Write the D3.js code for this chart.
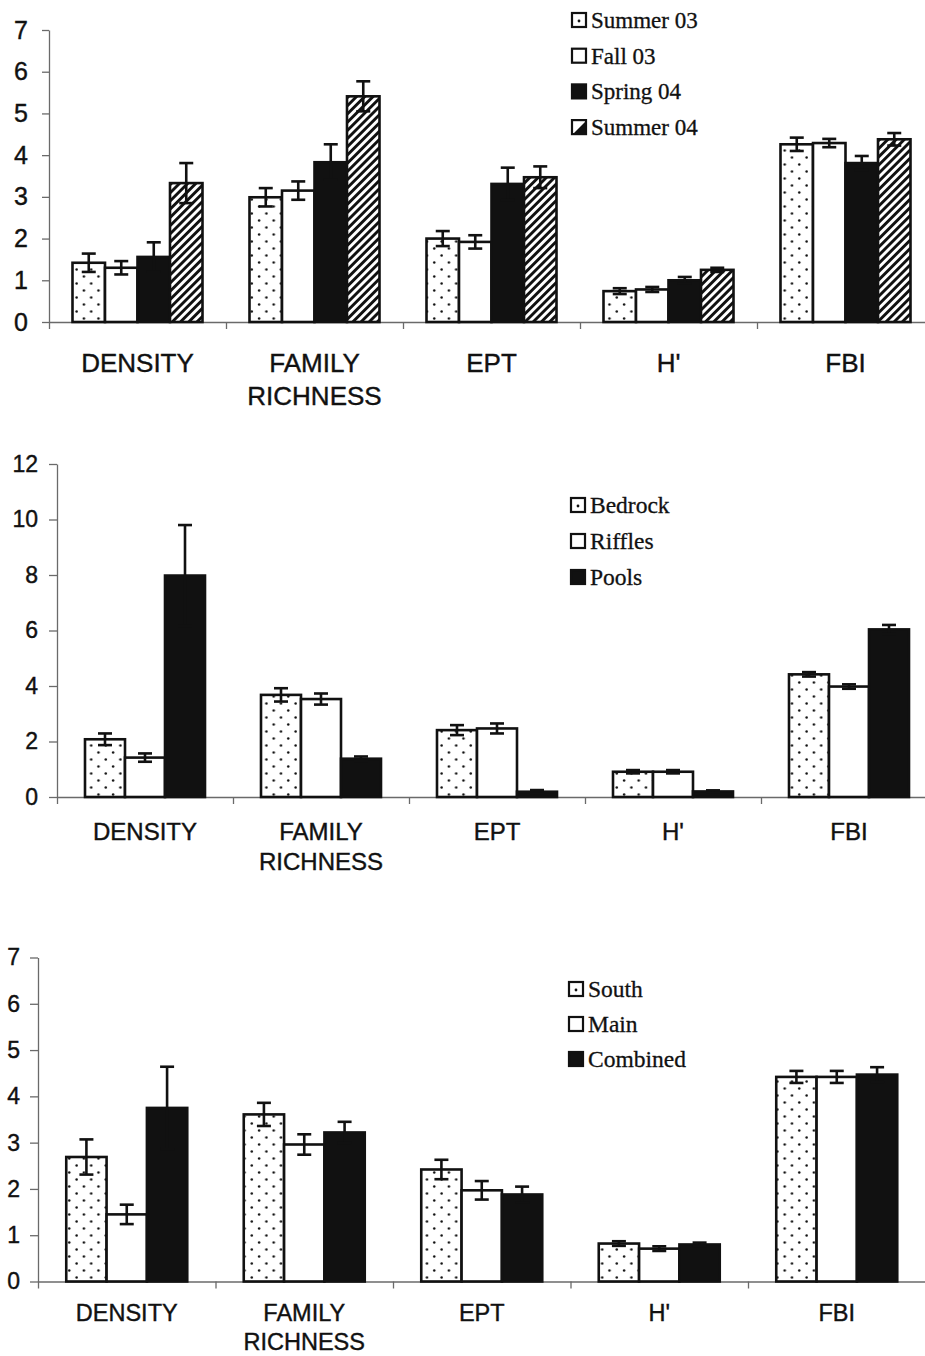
<!DOCTYPE html>
<html>
<head>
<meta charset="utf-8">
<script src="https://cdn.jsdelivr.net/npm/d3@7"></script>
<style>
  html, body { margin: 0; padding: 0; background: #fff; }
  svg { display: block; }
</style>
</head>
<body>
<script>
// ---------------- DATA ----------------
const categories = ["DENSITY", "FAMILY RICHNESS", "EPT", "H'", "FBI"];

// Chart 1 : seasons
const seasonNames = ["Summer 03", "Fall 03", "Spring 04", "Summer 04"];
const summer03Mean = [1.42, 2.99, 2.00, 0.74, 4.26];
const summer03Err  = [0.22, 0.22, 0.18, 0.07, 0.16];
const fall03Mean   = [1.30, 3.15, 1.92, 0.78, 4.29];
const fall03Err    = [0.16, 0.22, 0.16, 0.06, 0.10];
const spring04Mean = [1.56, 3.83, 3.31, 1.00, 3.81];
const spring04Err  = [0.35, 0.43, 0.39, 0.08, 0.17];
const summer04Mean = [3.33, 5.41, 3.47, 1.25, 4.38];
const summer04Err  = [0.48, 0.36, 0.26, 0.05, 0.15];
const yTicks1 = [0, 1, 2, 3, 4, 5, 6, 7];

// Chart 2 : habitats
const habitatNames = ["Bedrock", "Riffles", "Pools"];
const bedrockMean = [2.08, 3.68, 2.41, 0.91, 4.42];
const bedrockErr  = [0.21, 0.24, 0.18, 0.06, 0.08];
const rifflesMean = [1.42, 3.53, 2.47, 0.91, 3.98];
const rifflesErr  = [0.15, 0.20, 0.18, 0.06, 0.08];
const poolsMean   = [7.98, 1.38, 0.19, 0.20, 6.04];
const poolsErr    = [1.82, 0.08, 0.06, 0.04, 0.16];
const yTicks2 = [0, 2, 4, 6, 8, 10, 12];

// Chart 3 : streams
const streamNames = ["South", "Main", "Combined"];
const southMean    = [2.69, 3.61, 2.42, 0.82, 4.42];
const southErr     = [0.38, 0.25, 0.21, 0.05, 0.13];
const mainMean     = [1.45, 2.96, 1.97, 0.71, 4.42];
const mainErr      = [0.21, 0.22, 0.20, 0.05, 0.13];
const combinedMean = [3.75, 3.22, 1.88, 0.80, 4.47];
const combinedErr  = [0.89, 0.23, 0.17, 0.04, 0.16];
const yTicks3 = [0, 1, 2, 3, 4, 5, 6, 7];

// ---------------- DRAWING ----------------
const W = 925, H = 1356;
const svg = d3.select("body").append("svg").attr("width", W).attr("height", H);
svg.append("rect").attr("width", W).attr("height", H).attr("fill", "#fff");

const defs = svg.append("defs");
const dots = defs.append("pattern").attr("id", "dots").attr("patternUnits", "userSpaceOnUse")
  .attr("width", 14.6).attr("height", 14);
dots.append("rect").attr("width", 14.6).attr("height", 14).attr("fill", "#fff");
dots.append("circle").attr("cx", 3.6).attr("cy", 3.5).attr("r", 1.25).attr("fill", "#111");
dots.append("circle").attr("cx", 10.9).attr("cy", 10.5).attr("r", 1.25).attr("fill", "#111");

const hatch = defs.append("pattern").attr("id", "hatch").attr("patternUnits", "userSpaceOnUse")
  .attr("width", 5.8).attr("height", 10).attr("patternTransform", "rotate(45)");
hatch.append("rect").attr("width", 5.8).attr("height", 10).attr("fill", "#fff");
hatch.append("rect").attr("x", 0).attr("width", 2.9).attr("height", 10).attr("fill", "#111");

const fillFor = { dots: "url(#dots)", white: "#fff", black: "#111", hatch: "url(#hatch)" };

function drawChart(cfg) {
  const g = svg.append("g");
  const n = categories.length;
  const x = d3.scaleBand().domain(categories).range([cfg.x0, cfg.x0 + cfg.catW * n]);
  const xs = d3.scaleBand().domain(cfg.names)
    .range([(cfg.catW - cfg.groupW) / 2, (cfg.catW + cfg.groupW) / 2]);
  const y = d3.scaleLinear().domain([0, cfg.yMax]).range([cfg.yBottom, cfg.yTop]);
  const xb = d3.scaleLinear().domain([0, n]).range(x.range());

  // x axis
  const xa = g.append("g").attr("transform", `translate(0,${cfg.yBottom})`)
    .call(d3.axisBottom(xb).tickValues(d3.range(n + 1)).tickFormat("").tickSizeInner(7).tickSizeOuter(0));
  // y axis
  const ya = g.append("g").attr("transform", `translate(${cfg.x0},0)`)
    .call(d3.axisLeft(y).tickValues(cfg.ticks).tickFormat(d3.format("d"))
      .tickSizeInner(cfg.yTick).tickSizeOuter(0).tickPadding(cfg.tickPad));
  [xa, ya].forEach(a => {
    a.select(".domain").attr("stroke", "#6a6a6a").attr("stroke-width", 1.3);
    a.selectAll(".tick line").attr("stroke", "#6a6a6a").attr("stroke-width", 1.3);
  });
  ya.selectAll(".tick text").attr("font-family", "'Liberation Sans', Arial, sans-serif")
    .attr("font-size", cfg.tickFont).attr("fill", "#111")
    .attr("stroke", "#111").attr("stroke-width", 0.4);

  // bars
  cfg.names.forEach((name, si) => {
    const means = cfg.means[si];
    g.append("g").selectAll("rect").data(categories).join("rect")
      .attr("x", c => x(c) + xs(name))
      .attr("y", (c, i) => y(means[i]))
      .attr("width", xs.bandwidth())
      .attr("height", (c, i) => y(0) - y(means[i]))
      .attr("fill", fillFor[cfg.styles[si]])
      .attr("stroke", "#111").attr("stroke-width", 2.6);
  });
  // error bars
  cfg.names.forEach((name, si) => {
    const means = cfg.means[si], errs = cfg.errs[si];
    const eg = g.append("g").attr("stroke", "#111").attr("stroke-width", 2.6).attr("fill", "none");
    categories.forEach((c, i) => {
      const cx = x(c) + xs(name) + xs.bandwidth() / 2;
      const top = y(means[i] + errs[i]), bot = y(Math.max(0, means[i] - errs[i]));
      eg.append("line").attr("x1", cx).attr("x2", cx).attr("y1", top).attr("y2", bot);
      eg.append("line").attr("x1", cx - cfg.cap).attr("x2", cx + cfg.cap).attr("y1", top).attr("y2", top);
      eg.append("line").attr("x1", cx - cfg.cap).attr("x2", cx + cfg.cap).attr("y1", bot).attr("y2", bot);
    });
  });

  // category labels
  categories.forEach(c => {
    const words = c.split(" ");
    const t = g.append("text").attr("text-anchor", "middle")
      .attr("font-family", "'Liberation Sans', Arial, sans-serif")
      .attr("font-size", cfg.catFont).attr("fill", "#111")
      .attr("stroke", "#111").attr("stroke-width", 0.4);
    words.forEach((w, wi) => {
      t.append("tspan").attr("x", x(c) + x.bandwidth() / 2)
        .attr("y", cfg.labelY + wi * cfg.labelGap).text(w);
    });
  });

  // legend
  const lg = g.append("g");
  cfg.names.forEach((name, si) => {
    const by = cfg.legY + si * cfg.legGap;
    const s = 14;
    const sx = cfg.legX, sy = by - s - 1;
    const style = cfg.styles[si];
    lg.append("rect").attr("x", sx).attr("y", sy).attr("width", s).attr("height", s)
      .attr("fill", style === "black" ? "#111" : "#fff").attr("stroke", "#111").attr("stroke-width", 2.2);
    if (style === "dots") {
      lg.append("circle").attr("cx", sx + s / 2).attr("cy", sy + s / 2 + 1).attr("r", 1.4).attr("fill", "#111");
    }
    if (style === "hatch") {
      lg.append("path").attr("d", `M${sx + 2},${sy + s - 1} L${sx + s - 1},${sy + 2} L${sx + s - 1},${sy + s - 1} Z`)
        .attr("fill", "#111");
    }
    lg.append("text").attr("x", sx + s + 5).attr("y", by)
      .attr("font-family", "'Liberation Serif', 'Times New Roman', serif")
      .attr("font-size", cfg.legFont).attr("fill", "#111")
      .attr("stroke", "#111").attr("stroke-width", 0.3).text(name);
  });
}

drawChart({
  names: seasonNames,
  means: [summer03Mean, fall03Mean, spring04Mean, summer04Mean],
  errs: [summer03Err, fall03Err, spring04Err, summer04Err],
  styles: ["dots", "white", "black", "hatch"],
  ticks: yTicks1, yMax: 7,
  x0: 49, catW: 177, groupW: 130, yBottom: 322, yTop: 30,
  yTick: 7, tickPad: 14, tickFont: 25, cap: 7,
  labelY: 372, labelGap: 33, catFont: 26,
  legX: 572, legY: 28, legGap: 35.7, legFont: 23
});

drawChart({
  names: habitatNames,
  means: [bedrockMean, rifflesMean, poolsMean],
  errs: [bedrockErr, rifflesErr, poolsErr],
  styles: ["dots", "white", "black"],
  ticks: yTicks2, yMax: 12,
  x0: 57, catW: 176, groupW: 120, yBottom: 797, yTop: 464,
  yTick: 8, tickPad: 11, tickFont: 23, cap: 7,
  labelY: 840, labelGap: 30, catFont: 24,
  legX: 571, legY: 513, legGap: 36, legFont: 23.5
});

drawChart({
  names: streamNames,
  means: [southMean, mainMean, combinedMean],
  errs: [southErr, mainErr, combinedErr],
  styles: ["dots", "white", "black"],
  ticks: yTicks3, yMax: 7,
  x0: 38, catW: 177.5, groupW: 121, yBottom: 1281.5, yTop: 957.5,
  yTick: 8, tickPad: 10, tickFont: 23, cap: 7,
  labelY: 1321, labelGap: 28.5, catFont: 23.5,
  legX: 569, legY: 997, legGap: 35, legFont: 23.5
});
</script>
</body>
</html>
